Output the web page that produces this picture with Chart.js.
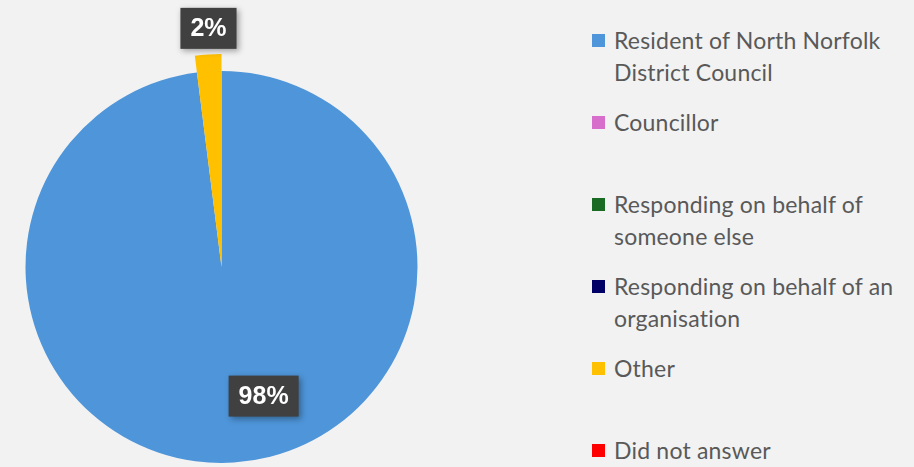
<!DOCTYPE html>
<html>
<head>
<meta charset="utf-8">
<script src="https://cdn.jsdelivr.net/npm/chart.js@4.4.1/dist/chart.umd.min.js"></script>
<style>
  html, body { margin: 0; padding: 0; background: #f2f2f2; }
  #wrap { position: relative; width: 914px; height: 467px; overflow: hidden; }
  #chartBox { position: absolute; left: 0; top: 0; width: 443px; height: 467px; }
  #legend { position: absolute; left: 591px; top: 24px; width: 318px; font-family: Lato, sans-serif; font-size: 23px; letter-spacing: 0.2px; color: #595959; }
  .item { display: flex; align-items: flex-start; height: 82px; line-height: 32px; }
  .sw { flex: 0 0 auto; width: 13px; height: 13px; margin: 10px 9px 0 1px; }
</style>
</head>
<body>
<div id="wrap">
  <div id="chartBox"><canvas id="pie"></canvas></div>
  <div id="legend"></div>
</div>
<script>
// data
const categories = [
  'Resident of North Norfolk District Council',
  'Councillor',
  'Responding on behalf of someone else',
  'Responding on behalf of an organisation',
  'Other',
  'Did not answer'
];
const shares = [98, 0, 0, 0, 2, 0];
const sliceColors = ['#4e95d9', '#d86ecc', '#196b24', '#000066', '#ffc000', '#ff0000'];

const OTHER_INDEX = 4;
const OTHER_POP = 17; // the small slice sticks out a bit past the rim

// build the legend as plain html so the text wraps like the original
const legendEl = document.getElementById('legend');
categories.forEach((name, i) => {
  const row = document.createElement('div');
  row.className = 'item';
  const sw = document.createElement('span');
  sw.className = 'sw';
  sw.style.background = sliceColors[i];
  const txt = document.createElement('span');
  txt.textContent = name;
  row.appendChild(sw);
  row.appendChild(txt);
  legendEl.appendChild(row);
});

// percent labels in dark boxes, placed along each slice's middle angle
const labelRadius = [0.66, 1, 1, 1, 1.22, 1];
const labelNudgeX = [34, 0, 0, 0, 2, 0];

const popSlice = {
  id: 'popSlice',
  beforeDatasetsDraw(chart) {
    const arc = chart.getDatasetMeta(0).data[OTHER_INDEX];
    if (arc && !arc._popped) {
      arc.outerRadius += OTHER_POP;
      arc._popped = true;
    }
  }
};

const boxLabels = {
  id: 'boxLabels',
  afterDatasetsDraw(chart) {
    const ctx = chart.ctx;
    const meta = chart.getDatasetMeta(0);
    ctx.save();
    ctx.font = 'bold 25px "Liberation Sans", Arial, sans-serif';
    ctx.textAlign = 'center';
    ctx.textBaseline = 'middle';
    meta.data.forEach((arc, i) => {
      if (!shares[i]) return;
      const mid = (arc.startAngle + arc.endAngle) / 2;
      const r = Math.min(chart.chartArea.width, chart.chartArea.height) / 2;
      const x = arc.x + Math.cos(mid) * r * labelRadius[i] + labelNudgeX[i];
      const y = arc.y + Math.sin(mid) * r * labelRadius[i];
      const text = shares[i] + '%';
      const w = ctx.measureText(text).width + 20;
      const h = 41;
      ctx.shadowColor = 'rgba(0,0,0,0.35)';
      ctx.shadowBlur = 6;
      ctx.shadowOffsetX = 2;
      ctx.shadowOffsetY = 2;
      ctx.fillStyle = '#404040';
      ctx.fillRect(x - w / 2, y - h / 2, w, h);
      ctx.shadowColor = 'transparent';
      ctx.fillStyle = '#ffffff';
      ctx.fillText(text, x, y + 1);
    });
    ctx.restore();
  }
};

new Chart(document.getElementById('pie'), {
  type: 'pie',
  data: {
    labels: categories,
    datasets: [{
      data: shares,
      backgroundColor: sliceColors,
      borderWidth: 0
    }]
  },
  options: {
    responsive: true,
    maintainAspectRatio: false,
    animation: false,
    layout: { padding: { top: 71, bottom: 4, left: 0, right: 0 } },
    plugins: {
      legend: { display: false },
      tooltip: { enabled: false }
    }
  },
  plugins: [popSlice, boxLabels]
});
</script>
</body>
</html>
